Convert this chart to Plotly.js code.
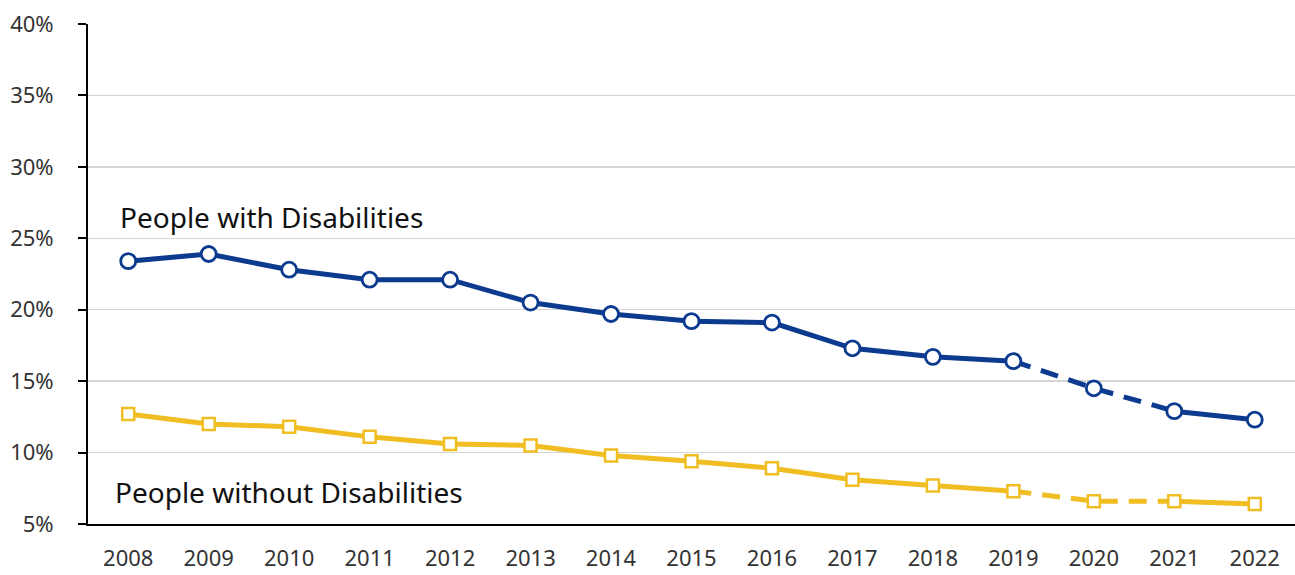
<!DOCTYPE html>
<html>
<head>
<meta charset="utf-8">
<script src="https://cdn.plot.ly/plotly-3.0.1.min.js"></script>
<style>html,body{margin:0;padding:0;background:#fff;}#chart{width:1295px;height:575px;}</style>
</head>
<body>
<div id="chart"></div>
<script>
const years = [2008,2009,2010,2011,2012,2013,2014,2015,2016,2017,2018,2019,2020,2021,2022];
const withDisabilities = [23.4,23.9,22.8,22.1,22.1,20.5,19.7,19.2,19.1,17.3,16.7,16.4,14.5,12.9,12.3];
const withoutDisabilities = [12.7,12.0,11.8,11.1,10.6,10.5,9.8,9.4,8.9,8.1,7.7,7.3,6.6,6.6,6.4];
const dashedYears = [2019,2020,2021];
const yTicks = [5,10,15,20,25,30,35,40];
const yTickText = yTicks.map(v => v + '%');
const labelWith = 'People with Disabilities';
const labelWithout = 'People without Disabilities';

const blue = '#0B3A8F';
const gold = '#F0BE23';

function solidPart(vals){ return years.map((y,i) => y === 2020 ? null : vals[i]); }
function dashedPart(vals){ return dashedYears.map(y => vals[years.indexOf(y)]); }

const traces = [
  {x: years, y: solidPart(withoutDisabilities), mode:'lines', line:{color:gold, width:5}, connectgaps:false, hoverinfo:'skip'},
  {x: dashedYears, y: dashedPart(withoutDisabilities), mode:'lines', line:{color:gold, width:5, dash:'18px,11px'}, hoverinfo:'skip'},
  {x: years, y: withoutDisabilities, mode:'markers', marker:{symbol:'square', size:12, color:'#fff', line:{color:gold, width:2.5}}},
  {x: years, y: solidPart(withDisabilities), mode:'lines', line:{color:blue, width:5}, connectgaps:false, hoverinfo:'skip'},
  {x: dashedYears, y: dashedPart(withDisabilities), mode:'lines', line:{color:blue, width:5, dash:'18px,11px'}, hoverinfo:'skip'},
  {x: years, y: withDisabilities, mode:'markers', marker:{symbol:'circle', size:15, color:'#fff', line:{color:blue, width:2.8}}}
];

const font = "'Noto Sans', 'Open Sans', sans-serif";
const layout = {
  width:1295, height:575,
  margin:{l:88, r:0, t:24, b:51},
  paper_bgcolor:'#fff', plot_bgcolor:'#fff',
  showlegend:false,
  font:{family:font, color:'#333', size:22},
  xaxis:{
    range:[2007.5, 2022.5], tickmode:'array', tickvals:years, ticktext:years.map(String),
    showgrid:false, zeroline:false, showline:true, linecolor:'#000', linewidth:2,
    ticks:'', ticklabelstandoff:14, tickfont:{size:22, color:'#333'}, fixedrange:true
  },
  yaxis:{
    range:[5,40], tickmode:'array', tickvals:yTicks, ticktext:yTickText,
    showgrid:true, gridcolor:'#d4d4d4', gridwidth:1.5, zeroline:false,
    showline:true, linecolor:'#000', linewidth:2,
    ticks:'outside', ticklen:8, tickwidth:2, tickcolor:'#000', ticklabelstandoff:20,
    tickfont:{size:22, color:'#333'}, fixedrange:true
  },
  annotations:[
    {x:2007.87, y:26.5, xref:'x', yref:'y', text:labelWith, showarrow:false, xanchor:'left', yanchor:'middle', font:{size:28, color:'#111'}},
    {x:2007.81, y:7.24, xref:'x', yref:'y', text:labelWithout, showarrow:false, xanchor:'left', yanchor:'middle', font:{size:28, color:'#111'}}
  ]
};
Plotly.newPlot('chart', traces, layout, {displayModeBar:false, staticPlot:true});
</script>
</body>
</html>
